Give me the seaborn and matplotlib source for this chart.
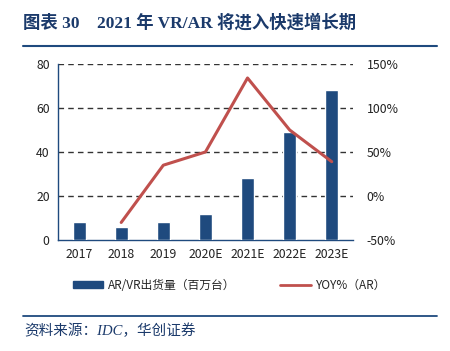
import matplotlib
matplotlib.use("Agg")
import matplotlib.pyplot as plt
import seaborn as sns
import numpy as np
import pandas as pd
from matplotlib.lines import Line2D
from matplotlib.patches import Patch

years = ["2017", "2018", "2019", "2020E", "2021E", "2022E", "2023E"]
shipments = [8.3, 6.0, 8.0, 12.0, 28.0, 49.0, 68.0]
yoy = [np.nan, -30.0, 35.0, 50.0, 134.0, 75.0, 39.0]
left_ticks = [0, 20, 40, 60, 80]
right_ticks = [-50, 0, 50, 100, 150]

sns.set_theme(style="white")
plt.rcParams['font.family'] = ['Noto Sans CJK SC', 'DejaVu Sans']

navy = "#1F4A7E"
red = "#C0504D"
title_color = "#1B3A6B"

df = pd.DataFrame({"year": years, "ship": shipments, "yoy": yoy})

fig = plt.figure(figsize=(4.5, 3.51), dpi=100)
ax = fig.add_axes([0.129, 0.316, 0.655, 0.502])

sns.barplot(data=df, x="year", y="ship", order=years, color=navy, width=0.31,
            saturation=1, ax=ax, zorder=3)
ax.set_ylim(0, 80)
ax.set_yticks(left_ticks)
ax.set_xlim(-0.5, 6.5)
for y in left_ticks[1:]:
    ax.axhline(y, color="#333333", linestyle=(0, (4, 3)), linewidth=1.0, zorder=1)
ax.set_xlabel("")
ax.set_ylabel("")
ax.tick_params(axis="both", labelsize=8.8, colors="#222222", length=0, pad=6)
for s in ["top", "right"]:
    ax.spines[s].set_visible(False)
ax.spines["left"].set_color(navy)
ax.spines["bottom"].set_color(navy)
ax.spines["left"].set_linewidth(1.0)
ax.spines["bottom"].set_linewidth(1.0)

ax2 = ax.twinx()
sns.pointplot(data=df, x="year", y="yoy", order=years, color=red, markers="",
              errorbar=None, linewidth=2.2, ax=ax2)
ax2.set_ylim(-50, 150)
ax2.set_yticks(right_ticks)
ax2.set_yticklabels([f"{t}%" for t in right_ticks])
ax2.set_xlim(-0.5, 6.5)
ax2.set_ylabel("")
ax2.set_xlabel("")
ax2.tick_params(axis="y", labelsize=8.8, colors="#222222", length=0, pad=10)
for s in ["top", "right", "left", "bottom"]:
    ax2.spines[s].set_visible(False)

# Title
fig.text(0.052, 0.935, "图表 30    2021 年 VR/AR 将进入快速增长期", fontsize=12.5,
         fontweight="bold", color=title_color, ha="left", va="center",
         family=['Liberation Serif', 'Noto Sans CJK SC'])
fig.add_artist(Line2D([0.052, 0.972], [0.869, 0.869], color=navy, linewidth=1.5))

# Legend
handles = [Patch(facecolor=navy, edgecolor=navy),
           Line2D([0], [0], color=red, linewidth=2)]
labels = ["AR/VR出货量（百万台）", "YOY%（AR）"]
fig.legend(handles, labels, loc="center", bbox_to_anchor=(0.51, 0.188), ncol=2,
           frameon=False, fontsize=8.5, handlelength=2.6, handleheight=0.5,
           columnspacing=3.8, handletextpad=0.4)

# Footer
fig.add_artist(Line2D([0.052, 0.972], [0.1, 0.1], color=navy, linewidth=1.3))
fig.text(0.055, 0.058, "资料来源：IDC，华创证券", fontsize=10.5, style="italic",
         color=title_color, ha="left", va="center",
         family=['Liberation Serif', 'Noto Sans CJK SC'])

fig.savefig("out.png", dpi=100)
